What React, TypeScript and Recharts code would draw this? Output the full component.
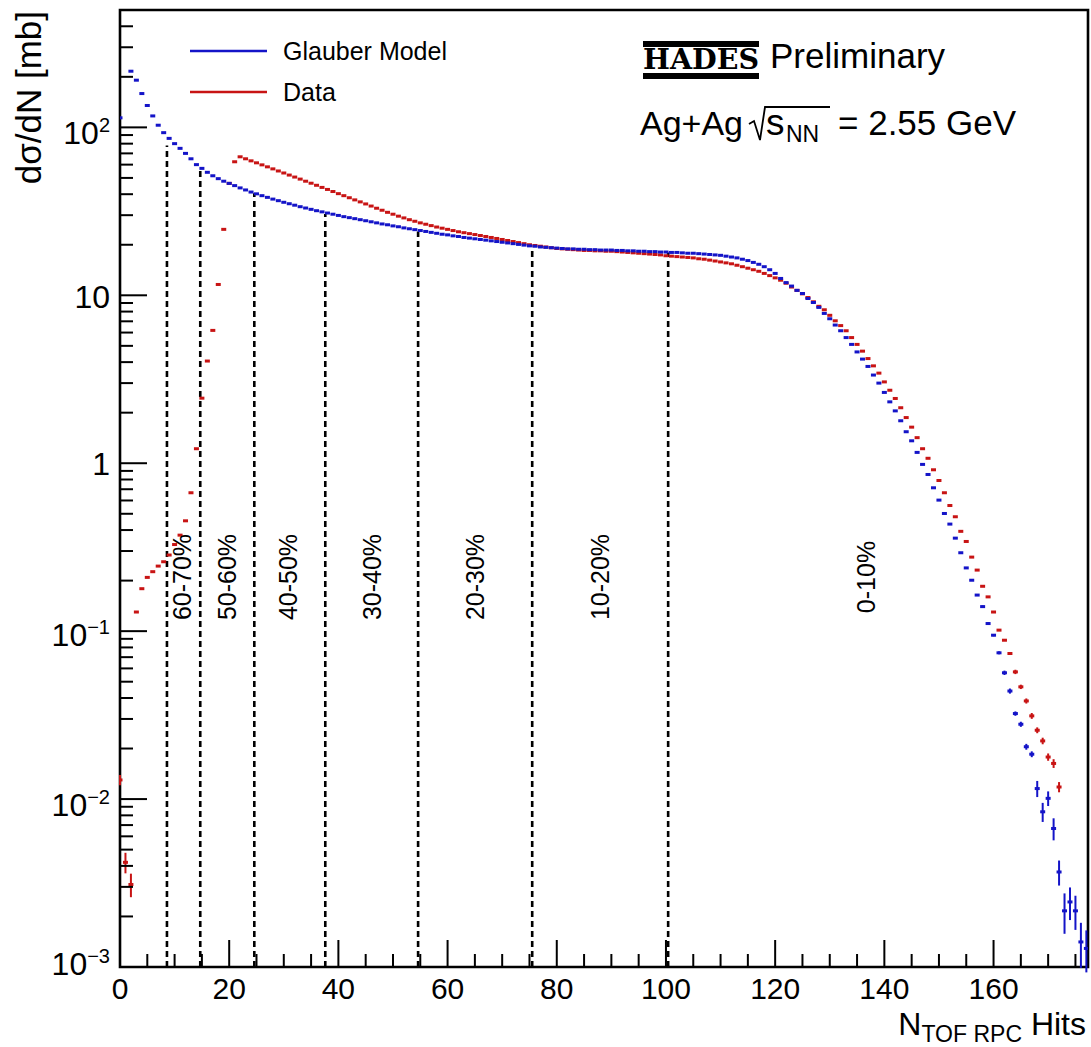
import React from 'react';
import {
  ComposedChart,
  Scatter,
  XAxis,
  YAxis,
  ErrorBar,
  ReferenceLine,
  ReferenceArea,
} from 'recharts';

// ---- data -------------------------------------------------------------

// Glauber model dσ/dN [mb], one value per N_TOF RPC bin starting at 0 (null = empty bin)
const glauberValues: (number | null)[] = [
  114, null, 216, 191, 159, 135, 117, 103, 93, 86,
  80, 75, 70, 65, 60, 57, 54, 51.5, 49.5, 47.8,
  46.4, 45, 43.6, 42.4, 41.2, 40.2, 39.2, 38.3, 37.4, 36.6,
  35.8, 35.1, 34.4, 33.7, 33.1, 32.5, 31.9, 31.4, 30.9, 30.4,
  29.9, 29.4, 29.0, 28.6, 28.2, 27.8, 27.4, 27.0, 26.6, 26.3,
  25.9, 25.6, 25.2, 24.9, 24.6, 24.3, 24.0, 23.7, 23.4, 23.1,
  22.9, 22.6, 22.4, 22.1, 21.9, 21.7, 21.5, 21.3, 21.1, 20.9,
  20.7, 20.5, 20.3, 20.1, 19.9, 19.7, 19.6, 19.4, 19.3, 19.2,
  19.1, 19.0, 18.9, 18.9, 18.8, 18.8, 18.7, 18.7, 18.6, 18.6,
  18.6, 18.5, 18.5, 18.4, 18.4, 18.3, 18.3, 18.2, 18.2, 18.1,
  18.1, 18.0, 18.0, 17.9, 17.8, 17.8, 17.7, 17.6, 17.5, 17.4,
  17.3, 17.1, 16.9, 16.7, 16.4, 16.1, 15.7, 15.3, 14.8, 14.2,
  13.5, 12.6, 11.9, 11.35, 10.7, 10.25, 9.57, 9.06, 8.47, 7.8,
  7.25, 6.65, 6.15, 5.6, 5.1, 4.6, 4.17, 3.77, 3.35, 3.0,
  2.64, 2.32, 2.05, 1.79, 1.54, 1.36, 1.16, 0.984, 0.857, 0.714,
  0.603, 0.502, 0.434, 0.358, 0.293, 0.238, 0.201, 0.164, 0.14, 0.111,
  0.0946, 0.0743, 0.0565, 0.044, 0.0323, 0.0279, 0.0205, 0.0185, 0.01155, 0.0084,
  0.0101, 0.00668, 0.00368, 0.00216, 0.00244, 0.00216, 0.00141, 0.00129,
];

// relative statistical errors of the Glauber tail: [bin, relative error]
const glauberRelErrors: [number, number][] = [
  [158, 0.015], [159, 0.015], [160, 0.015], [161, 0.02], [162, 0.03],
  [163, 0.035], [164, 0.03], [165, 0.035], [166, 0.04], [167, 0.04],
  [168, 0.11], [169, 0.13], [170, 0.1], [171, 0.15], [172, 0.17],
  [173, 0.27], [174, 0.22], [175, 0.23], [176, 0.3], [177, 0.28],
];

// measured dσ/dN [mb], one value per N_TOF RPC bin starting at 0
const dataValues: (number | null)[] = [
  0.013, 0.0042, 0.0031, 0.13, 0.179, 0.209, 0.226, 0.244, 0.259, 0.284,
  0.328, 0.373, 0.454, 0.667, 1.22, 2.44, 4.06, 6.18, 11.6, 24.7,
  46.4, 62.4, 66.8, 65.0, 63.2, 61.5, 59.8, 58.2, 56.6, 55.0,
  53.5, 52.0, 50.6, 49.2, 47.8, 46.5, 45.2, 43.9, 42.7, 41.5,
  40.3, 39.2, 38.1, 37.0, 36.0, 35.0, 34.0, 33.0, 32.1, 31.2,
  30.4, 29.6, 28.9, 28.2, 27.6, 27.0, 26.5, 26.0, 25.5, 25.1,
  24.7, 24.3, 23.9, 23.6, 23.3, 23.0, 22.7, 22.4, 22.1, 21.8,
  21.5, 21.2, 20.9, 20.6, 20.3, 20.0, 19.8, 19.6, 19.4, 19.2,
  19.0, 18.9, 18.8, 18.7, 18.6, 18.5, 18.5, 18.4, 18.4, 18.3,
  18.3, 18.2, 18.1, 18.0, 17.9, 17.8, 17.7, 17.6, 17.5, 17.4,
  17.2, 17.1, 17.0, 16.9, 16.8, 16.7, 16.5, 16.4, 16.2, 16.0,
  15.8, 15.6, 15.4, 15.1, 14.8, 14.5, 14.2, 13.9, 13.5, 13.1,
  12.7, 12.3, 11.8, 11.2, 10.7, 10.2, 9.7, 9.15, 8.6, 8.2,
  7.6, 7.05, 6.6, 6.15, 5.6, 5.1, 4.65, 4.2, 3.8, 3.44,
  3.05, 2.72, 2.43, 2.14, 1.87, 1.64, 1.42, 1.22, 1.07, 0.914,
  0.789, 0.667, 0.56, 0.48, 0.393, 0.342, 0.276, 0.231, 0.185, 0.16,
  0.13, 0.1014, 0.0883, 0.0736, 0.0572, 0.0466, 0.0384, 0.0313, 0.0257, 0.0222,
  0.0178, 0.0163, 0.0118,
];

const dataRelErrors: [number, number][] = [
  [0, 0.07], [1, 0.14], [2, 0.16],
  [164, 0.03], [165, 0.03], [166, 0.035], [167, 0.04], [168, 0.04],
  [169, 0.045], [170, 0.05], [171, 0.06], [172, 0.07],
];

// centrality class boundaries in N_TOF RPC and the height the markers reach
const centralityCuts = [8.6, 14.7, 24.6, 37.6, 54.6, 75.5, 100.4];
const centralityCutTops = [78, 57, 40.5, 30.5, 24, 19.4, 18];
const centralityClasses = ['60-70%', '50-60%', '40-50%', '30-40%', '20-30%', '10-20%', '0-10%'];
const centralityLabelX = [182, 227, 288, 372, 475, 600, 866];

const xMajorTicks = [0, 20, 40, 60, 80, 100, 120, 140, 160];
const yDecades = [-3, -2, -1, 0, 1, 2];

const X_MAX = 177.3;
const Y_MIN = 0.001;
const Y_MAX = 500;

// ---- derived tables ---------------------------------------------------

type Pt = { x: number; y: number; err: number };

function toPoints(values: (number | null)[], rel: [number, number][]): Pt[] {
  const relMap = new Map(rel);
  const pts: Pt[] = [];
  values.forEach((v, i) => {
    if (v == null) return;
    const r = relMap.get(i) ?? 0;
    pts.push({ x: i, y: v, err: v * r });
  });
  return pts;
}

const glauberPoints = toPoints(glauberValues, glauberRelErrors);
const dataPoints = toPoints(dataValues, dataRelErrors);

const xTicks: number[] = [];
for (let v = 0; v <= 175; v += 5) xTicks.push(v);

const yTicks: number[] = [];
yDecades.forEach((k) => {
  for (let m = 1; m <= 9; m++) {
    const v = m * Math.pow(10, k);
    if (v <= 400 + 1e-9) yTicks.push(Number(v.toPrecision(6)));
  }
});

// ---- styling ----------------------------------------------------------

const FONT = '"Liberation Sans", Arial, Helvetica, sans-serif';
const BLUE = '#1414c8';
const RED = '#c81414';

const MAJOR = 27;
const MINOR = 13;

function XTick(props: any) {
  const { x, payload } = props;
  const y = 967;
  const v = payload.value as number;
  const major = xMajorTicks.includes(v);
  return (
    <g>
      <line x1={x} x2={x} y1={y} y2={y - (major ? MAJOR : MINOR)} stroke="#000" strokeWidth={2} />
      {major && (
        <text x={x} y={y + 32} textAnchor="middle" fontSize={30} fontFamily={FONT} fill="#000">
          {v}
        </text>
      )}
    </g>
  );
}

const yLabelShift: Record<number, number> = { 2: 17, 1: 13, 0: 12, [-1]: 15, [-2]: 16.5, [-3]: 8 };

function YTick(props: any) {
  const { y, payload } = props;
  const x = 120;
  const v = payload.value as number;
  const k = Math.round(Math.log10(v));
  const major = Math.abs(v / Math.pow(10, k) - 1) < 1e-6;
  let label: React.ReactNode = null;
  if (major) {
    const by = y + yLabelShift[k];
    if (k === 0 || k === 1) {
      label = (
        <text x={x - 10} y={by} textAnchor="end" fontSize={32} fontFamily={FONT} fill="#000">
          {k === 0 ? '1' : '10'}
        </text>
      );
    } else {
      label = (
        <text x={x - 10} y={by} textAnchor="end" fontSize={32} fontFamily={FONT} fill="#000">
          10
          <tspan dy={-12} fontSize={20}>
            {k < 0 ? `\u2212${-k}` : `${k}`}
          </tspan>
        </text>
      );
    }
  }
  return (
    <g>
      <line x1={x} x2={x + (major ? MAJOR : MINOR)} y1={y} y2={y} stroke="#000" strokeWidth={2} />
      {label}
    </g>
  );
}

function binMarker(color: string) {
  return (props: any) => {
    const { cx, cy } = props;
    if (cx == null || cy == null) return <g />;
    return <rect x={cx - 2.5} y={cy - 1.5} width={5} height={3} fill={color} />;
  };
}

export default function App() {
  return (
    <div style={{ position: 'absolute', left: 0, top: 0, width: 1091, height: 1047, background: '#fff' }}>
      <ComposedChart
        width={1091}
        height={1047}
        margin={{ top: 10, right: 3, bottom: 79, left: 119 }}
      >
        <XAxis
          dataKey="x"
          type="number"
          domain={[0, X_MAX]}
          allowDataOverflow
          ticks={xTicks}
          interval={0}
          tick={<XTick />}
          tickLine={false}
          axisLine={false}
          tickSize={0}
          tickMargin={0}
          height={1}
        />
        <YAxis
          dataKey="y"
          type="number"
          scale="log"
          domain={[Y_MIN, Y_MAX]}
          allowDataOverflow
          ticks={yTicks}
          interval={0}
          tick={<YTick />}
          tickLine={false}
          axisLine={false}
          tickSize={0}
          tickMargin={0}
          width={1}
        />
        {centralityCuts.map((c, i) => (
          <ReferenceLine
            key={c}
            segment={[
              { x: c, y: Y_MIN },
              { x: c, y: centralityCutTops[i] },
            ]}
            stroke="#000"
            strokeWidth={2.6}
            strokeDasharray="6 4"
          />
        ))}
        <Scatter data={dataPoints} fill={RED} shape={binMarker(RED)} isAnimationActive={false}>
          <ErrorBar dataKey="err" direction="y" width={0} stroke={RED} strokeWidth={2} />
        </Scatter>
        <Scatter data={glauberPoints} fill={BLUE} shape={binMarker(BLUE)} isAnimationActive={false}>
          <ErrorBar dataKey="err" direction="y" width={0} stroke={BLUE} strokeWidth={2} />
        </Scatter>
        <ReferenceArea
          x1={0}
          x2={X_MAX}
          y1={Y_MIN}
          y2={Y_MAX}
          fill="none"
          fillOpacity={0}
          stroke="#000"
          strokeWidth={2.6}
        />
      </ComposedChart>

      <svg
        width={1091}
        height={1047}
        style={{ position: 'absolute', left: 0, top: 0, pointerEvents: 'none' }}
      >
        {/* axis titles */}
        <text
          transform="translate(41,11) rotate(-90)"
          textAnchor="end"
          fontSize={35}
          fontFamily={FONT}
          fill="#000"
        >
          dσ/dN [mb]
        </text>
        <text x={1086} y={1035} textAnchor="end" fontSize={32} fontFamily={FONT} fill="#000">
          N
          <tspan dy={7} fontSize={23}>TOF RPC</tspan>
          <tspan dy={-7}> Hits</tspan>
        </text>

        {/* legend */}
        <line x1={190} x2={267} y1={51} y2={51} stroke={BLUE} strokeWidth={2.6} />
        <text x={283} y={60} fontSize={25} fontFamily={FONT} fill="#000">Glauber Model</text>
        <line x1={190} x2={267} y1={92} y2={92} stroke={RED} strokeWidth={2.6} />
        <text x={283} y={101} fontSize={25} fontFamily={FONT} fill="#000">Data</text>

        {/* experiment tag */}
        <rect x={643} y={41} width={116} height={6} fill="#000" />
        <rect x={643} y={73} width={116} height={6} fill="#000" />
        <text
          x={643}
          y={69}
          fontSize={28}
          fontWeight="bold"
          fontFamily='"DejaVu Serif", "Liberation Serif", serif'
          textLength={116}
          lengthAdjust="spacingAndGlyphs"
          fill="#000"
        >
          HADES
        </text>
        <text x={770} y={68} fontSize={35} fontFamily={FONT} fill="#000">Preliminary</text>

        {/* collision system */}
        <text x={640} y={135} fontSize={34} fontFamily={FONT} fill="#000">Ag+Ag</text>
        <path d="M 749 124 L 754 121 L 760 140 L 765 107 L 830 107" fill="none" stroke="#000" strokeWidth={1.8} />
        <text x={766} y={135} fontSize={37} fontFamily={FONT} fill="#000">s</text>
        <text x={786} y={142} fontSize={23} fontFamily={FONT} fill="#000">NN</text>
        <text x={838} y={135} fontSize={35} fontFamily={FONT} fill="#000">= 2.55 GeV</text>

        {/* centrality classes */}
        {centralityClasses.map((c, i) => (
          <text
            key={c}
            transform={`translate(${centralityLabelX[i]},577) rotate(-90)`}
            textAnchor="middle"
            dominantBaseline="central"
            fontSize={25}
            fontFamily={FONT}
            fill="#000"
          >
            {c}
          </text>
        ))}
      </svg>
    </div>
  );
}
